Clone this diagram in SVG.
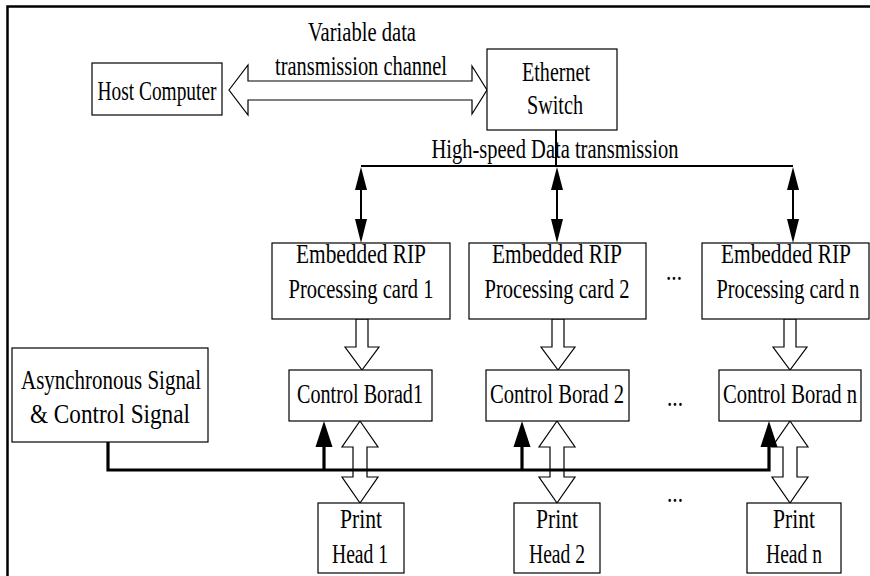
<svg xmlns="http://www.w3.org/2000/svg" width="870" height="576" viewBox="0 0 870 576">
<style>
.box{fill:#fff;stroke:#000;stroke-width:1.2}
.t{font-family:"Liberation Serif","Times New Roman",serif;font-size:26.5px;fill:#000;text-anchor:middle}
.hol{fill:#fff;stroke:#000;stroke-width:1.2}
.thin{stroke:#000;stroke-width:2;fill:none}
.thick{stroke:#000;stroke-width:3.2;fill:none}
.ah{fill:#000}
</style>
<rect width="870" height="576" fill="#fff"/>
<path d="M7.5,576 V6.5 H870" fill="none" stroke="#000" stroke-width="2.5"/>

<g id="connectors">
<polygon class="hol" points="229,90 248,65 248,81 472,81 472,66 487,90 472,114 472,100 248,100 248,115"/>
<line class="thin" x1="556" y1="130" x2="556" y2="166"/>
<line class="thin" x1="361" y1="166" x2="793" y2="166"/>
<line class="thin" x1="361" y1="180" x2="361" y2="230"/>
<line class="thin" x1="557" y1="180" x2="557" y2="230"/>
<line class="thin" x1="793" y1="180" x2="793" y2="230"/>
<polygon class="ah" points="361,167 367,190 355,190"/>
<polygon class="ah" points="361,243 367,219 355,219"/>
<polygon class="ah" points="557,167 563,190 551,190"/>
<polygon class="ah" points="557,243 563,219 551,219"/>
<polygon class="ah" points="793,167 799,190 787,190"/>
<polygon class="ah" points="793,243 799,219 787,219"/>
<polygon class="hol" points="356,319 368,319 368,347 379,347 362,370 345,347 356,347"/>
<polygon class="hol" points="552,319 564,319 564,347 575,347 558,370 541,347 552,347"/>
<polygon class="hol" points="784,319 796,319 796,347 807,347 790,370 773,347 784,347"/>
<polygon class="hol" points="360,421 378,447 367,447 367,477 378,477 360,503 342,477 353,477 353,447 342,447"/>
<polygon class="hol" points="557,421 575,447 564,447 564,477 575,477 557,503 539,477 550,477 550,447 539,447"/>
<polygon class="hol" points="790,421 808,447 797,447 797,477 808,477 790,503 772,477 783,477 783,447 772,447"/>
<polyline class="thick" points="108,442 108,470 769,470 769,445"/>
<line class="thick" x1="324" y1="470" x2="324" y2="445"/>
<line class="thick" x1="522" y1="470" x2="522" y2="445"/>
<polygon class="ah" points="324,421 332.5,447 315.5,447"/>
<polygon class="ah" points="522,421 530.5,447 513.5,447"/>
<polygon class="ah" points="769,421 777.5,447 760.5,447"/>
</g>

<text class="t" x="362" y="41" textLength="108" lengthAdjust="spacingAndGlyphs">Variable data</text>
<text class="t" x="361" y="75" textLength="172" lengthAdjust="spacingAndGlyphs">transmission channel</text>
<text class="t" x="555" y="158" textLength="247" lengthAdjust="spacingAndGlyphs">High-speed Data transmission</text>
<text class="t" x="674" y="280" textLength="16" lengthAdjust="spacingAndGlyphs">...</text>
<text class="t" x="675" y="406" textLength="16" lengthAdjust="spacingAndGlyphs">...</text>
<text class="t" x="675" y="502" textLength="16" lengthAdjust="spacingAndGlyphs">...</text>

<g id="host">
<rect class="box" x="92" y="63" width="130" height="52"/>
<text class="t" x="157" y="100" textLength="119" lengthAdjust="spacingAndGlyphs">Host Computer</text>
</g>
<g id="switch">
<rect class="box" x="487" y="49" width="130" height="81"/>
<text class="t" x="556" y="81" textLength="68" lengthAdjust="spacingAndGlyphs">Ethernet</text>
<text class="t" x="555" y="114" textLength="56" lengthAdjust="spacingAndGlyphs">Switch</text>
</g>
<g id="rip1">
<rect class="box" x="272" y="243" width="178" height="76"/>
<text class="t" x="361" y="263" textLength="130" lengthAdjust="spacingAndGlyphs">Embedded RIP</text>
<text class="t" x="361" y="298" textLength="145" lengthAdjust="spacingAndGlyphs">Processing card 1</text>
</g>
<g id="rip2">
<rect class="box" x="469" y="243" width="177" height="76"/>
<text class="t" x="557" y="263" textLength="130" lengthAdjust="spacingAndGlyphs">Embedded RIP</text>
<text class="t" x="557" y="298" textLength="145" lengthAdjust="spacingAndGlyphs">Processing card 2</text>
</g>
<g id="ripn">
<rect class="box" x="702" y="243" width="167" height="76"/>
<text class="t" x="786" y="263" textLength="130" lengthAdjust="spacingAndGlyphs">Embedded RIP</text>
<text class="t" x="788" y="298" textLength="143" lengthAdjust="spacingAndGlyphs">Processing card n</text>
</g>
<g id="async">
<rect class="box" x="12" y="348" width="196" height="94"/>
<text class="t" x="111" y="389" textLength="180" lengthAdjust="spacingAndGlyphs">Asynchronous Signal</text>
<text class="t" x="110" y="423" textLength="160" lengthAdjust="spacingAndGlyphs">&amp; Control Signal</text>
</g>
<g id="ctrl1">
<rect class="box" x="289" y="370" width="143" height="51"/>
<text class="t" x="360" y="403" textLength="126" lengthAdjust="spacingAndGlyphs">Control Borad1</text>
</g>
<g id="ctrl2">
<rect class="box" x="486" y="370" width="143" height="51"/>
<text class="t" x="557" y="403" textLength="134" lengthAdjust="spacingAndGlyphs">Control Borad 2</text>
</g>
<g id="ctrln">
<rect class="box" x="719" y="370" width="142" height="51"/>
<text class="t" x="790" y="403" textLength="134" lengthAdjust="spacingAndGlyphs">Control Borad n</text>
</g>
<g id="head1">
<rect class="box" x="318" y="503" width="86" height="70"/>
<text class="t" x="361" y="528" textLength="42" lengthAdjust="spacingAndGlyphs">Print</text>
<text class="t" x="360" y="563" textLength="56" lengthAdjust="spacingAndGlyphs">Head 1</text>
</g>
<g id="head2">
<rect class="box" x="514" y="503" width="86" height="70"/>
<text class="t" x="557" y="528" textLength="42" lengthAdjust="spacingAndGlyphs">Print</text>
<text class="t" x="557" y="563" textLength="56" lengthAdjust="spacingAndGlyphs">Head 2</text>
</g>
<g id="headn">
<rect class="box" x="747" y="503" width="94" height="70"/>
<text class="t" x="794" y="528" textLength="42" lengthAdjust="spacingAndGlyphs">Print</text>
<text class="t" x="794" y="563" textLength="56" lengthAdjust="spacingAndGlyphs">Head n</text>
</g>
</svg>
